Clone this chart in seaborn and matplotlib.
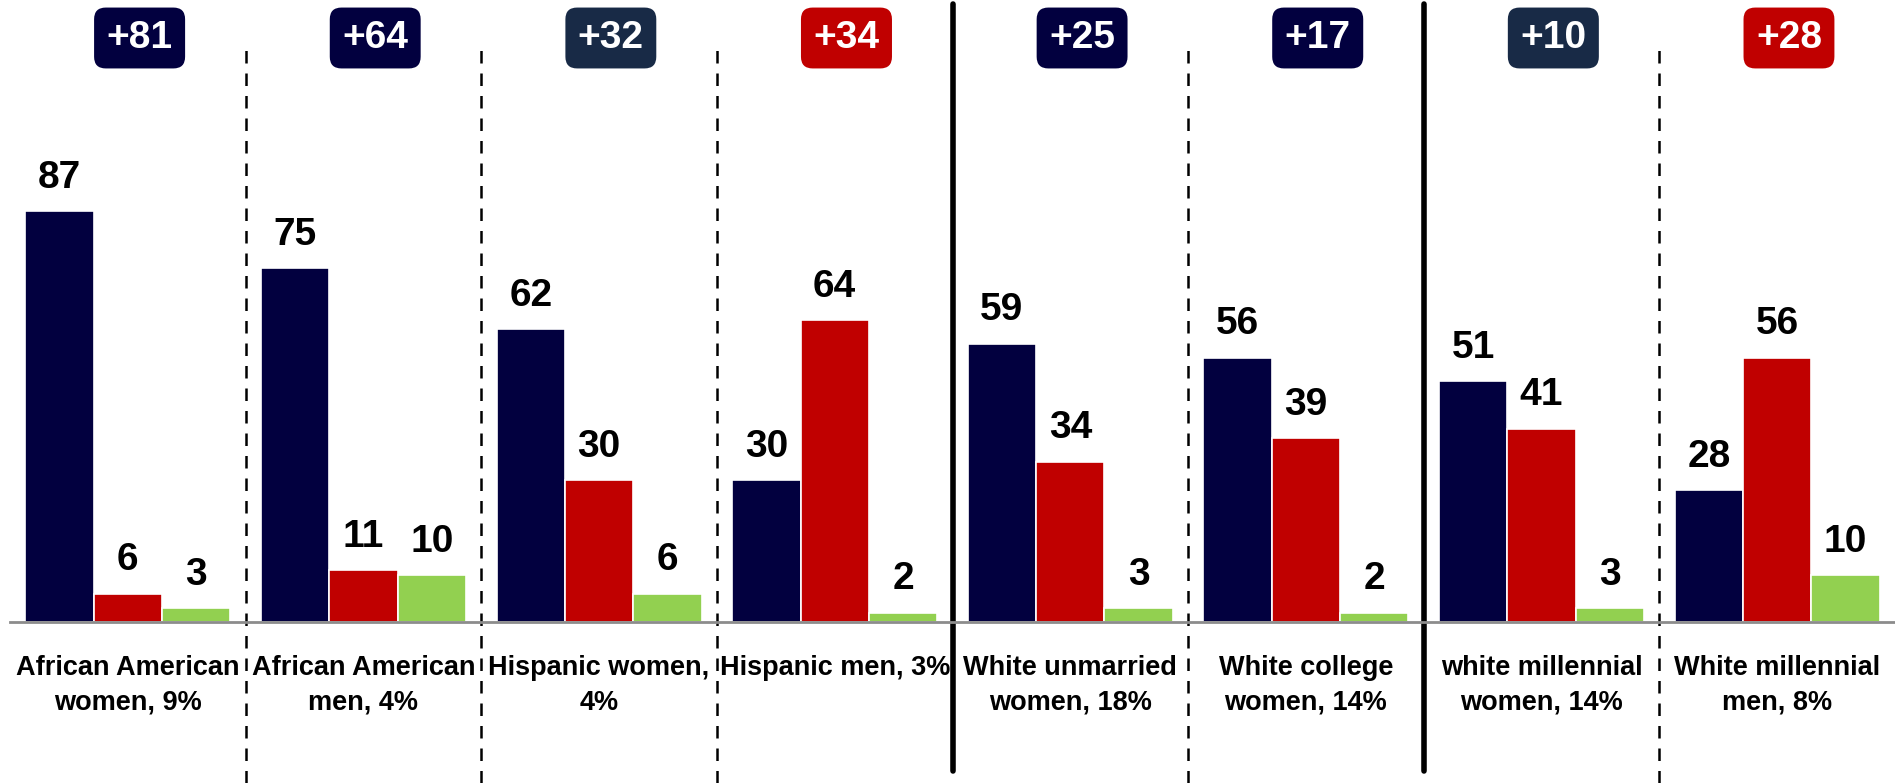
import matplotlib
matplotlib.use('Agg')
import matplotlib.pyplot as plt
import matplotlib.transforms as mtransforms
import seaborn as sns
import pandas as pd

groups = ['African American\nwomen, 9%', 'African American\nmen, 4%', 'Hispanic women,\n4%',
          'Hispanic men, 3%', 'White unmarried\nwomen, 18%', 'White college\nwomen, 14%',
          'white millennial\nwomen, 14%', 'White millennial\nmen, 8%']
dem = [87, 75, 62, 30, 59, 56, 51, 28]
rep = [6, 11, 30, 64, 34, 39, 41, 56]
other = [3, 10, 6, 2, 3, 2, 3, 10]
margins = ['+81', '+64', '+32', '+34', '+25', '+17', '+10', '+28']
margin_colors = ['#02003F', '#02003F', '#182A46', '#C00000', '#02003F', '#02003F', '#182A46', '#C00000']
# separators between groups: 'd' dashed, 's' solid
separators = ['d', 'd', 'd', 's', 'd', 's', 'd']

series = ['Dem', 'Rep', 'Other']
palette = {'Dem': '#02003F', 'Rep': '#C00000', 'Other': '#92D050'}

df = pd.DataFrame({
    'group': groups * 3,
    'series': ['Dem'] * 8 + ['Rep'] * 8 + ['Other'] * 8,
    'value': dem + rep + other,
})

sns.set_style('white')
plt.rcParams['font.family'] = ['Liberation Sans Narrow', 'Liberation Sans', 'DejaVu Sans']
plt.rcParams['text.color'] = 'black'

W, H = 1895, 783
fig = plt.figure(figsize=(W / 100, H / 100), dpi=100)
base = 622 / H
ax = fig.add_axes([10 / W, 1 - base, 1 - 10 / W, base])

sns.barplot(data=df, x='group', y='value', hue='series', hue_order=series,
            palette=palette, saturation=1, width=0.87, edgecolor='white', linewidth=1.2,
            legend=False, ax=ax)

ax.set_xlim(-0.5, 7.5)
ax.set_ylim(0, 131.8)

for c in ax.containers:
    ax.bar_label(c, padding=11, fontsize=28, fontweight='bold', color='black')

for sp in ['top', 'right', 'left']:
    ax.spines[sp].set_visible(False)
ax.spines['bottom'].set_color('#8c8c8c')
ax.spines['bottom'].set_linewidth(2)
ax.set_yticks([])
ax.set_xlabel('')
ax.set_ylabel('')
ax.set_xticks([i - 0.5 for i in range(9)], minor=True)
ax.tick_params(axis='x', which='minor', length=9, width=2, color='#8c8c8c', direction='out')
ax.tick_params(axis='x', which='major', length=0)
ax.set_xticklabels([])

# group labels below axis
trans = mtransforms.blended_transform_factory(ax.transData, fig.transFigure)
for i, g in enumerate(groups):
    ax.text(i, 1 - 655 / H, g, transform=trans, ha='center', va='top', color='black',
            fontsize=19.5, fontweight='bold', linespacing=1.45, clip_on=False)

# margin badges
for i, (m, col) in enumerate(zip(margins, margin_colors)):
    ax.text(i + 0.05, 1 - 38 / H, m, transform=trans, ha='center', va='center',
            fontsize=28, fontweight='bold', color='white', clip_on=False,
            bbox=dict(boxstyle='round,pad=0.32,rounding_size=0.3', fc=col, ec='none'))

# separators
for i, s in enumerate(separators):
    x = i + 0.5
    if s == 's':
        ax.plot([x, x], [0.015, 0.995], transform=trans, color='black', lw=4, clip_on=False)
    else:
        ax.plot([x, x], [0, 1 - 45 / H], transform=trans, color='black', lw=1.8,
                ls=(0, (5, 4)), clip_on=False)

fig.savefig('out.png', dpi=100)
